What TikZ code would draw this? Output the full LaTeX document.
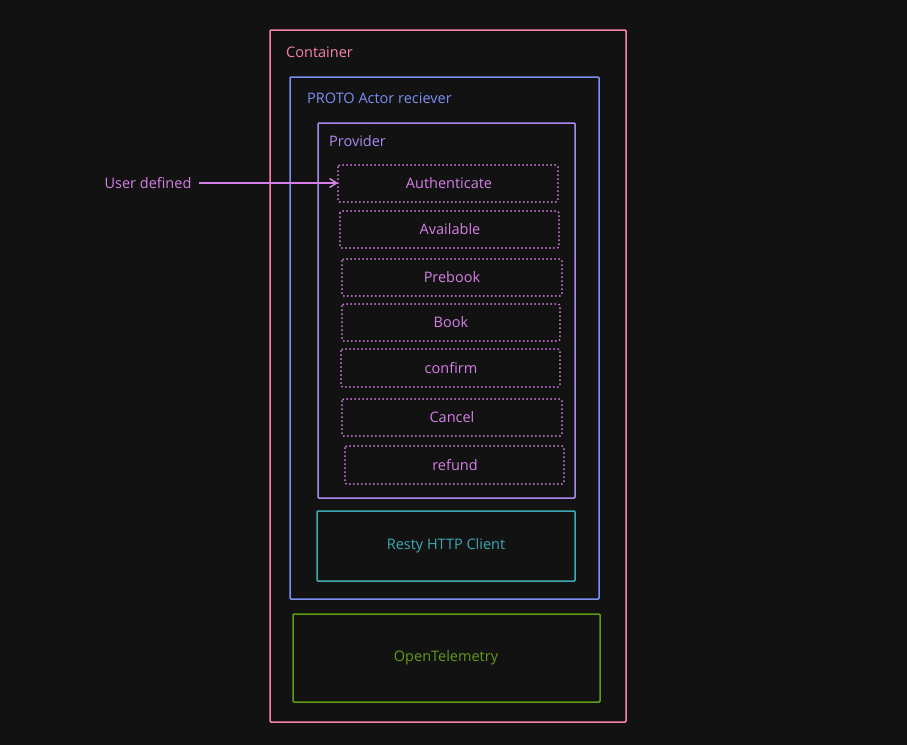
\documentclass[tikz,border=0pt]{standalone}
\usepackage{fontspec}
\setmainfont{Open Sans}
\usetikzlibrary{arrows.meta}
\definecolor{bg}{HTML}{121212}
\definecolor{cpink}{HTML}{F783AC}
\definecolor{cblue}{HTML}{7B8FF2}
\definecolor{cpurple}{HTML}{A98BEF}
\definecolor{cmag}{HTML}{D57FE6}
\definecolor{cteal}{HTML}{3FA9B3}
\definecolor{cgreen}{HTML}{5E9C15}
\begin{document}
\begin{tikzpicture}[x=1pt,y=-1pt,
  frame/.style={draw, line width=1.5pt, rounded corners=1pt},
  opbox/.style={draw=cmag, line width=2pt, dash pattern=on 0pt off 4pt, line cap=round, rounded corners=2pt},
  lbl/.style={font=\fontsize{14.5}{16}\selectfont, inner sep=0pt},
  oplbl/.style={lbl, text=cmag}]
\fill[bg] (0,0) rectangle (907,745);
\useasboundingbox (0,0) rectangle (907,745);
% container
\draw[frame, cpink] (270,30) rectangle (626,722);
\node[lbl, text=cpink, anchor=west] (tcont) at (286,52) {Container};
% PROTO
\draw[frame, cblue] (290,77) rectangle (599,599);
\node[lbl, text=cblue, anchor=west] (tproto) at (307,98) {PROTO Actor reciever};
% Provider
\draw[frame, cpurple] (318,123) rectangle (575,498);
\node[lbl, text=cpurple, anchor=west] (tprov) at (329,141) {Provider};
% operations
\draw[opbox] (338,165) rectangle (558,202);
\node[oplbl] (auth) at (449,183.5) {Authenticate};
\coordinate (authw) at (338,183);
\draw[opbox] (340,211) rectangle (559,248);
\node[oplbl] (avail) at (450,229.5) {Available};
\draw[opbox] (342,259) rectangle (562,296);
\node[oplbl] (prebook) at (452,277.5) {Prebook};
\draw[opbox] (342,304) rectangle (560,341);
\node[oplbl] (book) at (451,322.5) {Book};
\draw[opbox] (341,349) rectangle (560,387);
\node[oplbl] (confirm) at (451,368) {confirm};
\draw[opbox] (342,399) rectangle (562,436);
\node[oplbl] (cancel) at (452,417.5) {Cancel};
\draw[opbox] (345,446) rectangle (564,484);
\node[oplbl] (refund) at (455,465) {refund};
% Resty
\draw[frame, cteal] (317,511) rectangle (575,581);
\node[lbl, text=cteal] (resty) at (446,546) {Resty HTTP Client};
% OpenTelemetry
\draw[frame, cgreen] (293,614) rectangle (600,702);
\node[lbl, text=cgreen] (otel) at (446,658) {OpenTelemetry};
% User defined
\node[lbl, text=cmag] (user) at (148,183) {User defined};
\draw[cmag, line width=1.5pt, -{Straight Barb[length=7pt,width=9pt]}] ([xshift=7pt]user.east) -- (authw);
\end{tikzpicture}
\end{document}
